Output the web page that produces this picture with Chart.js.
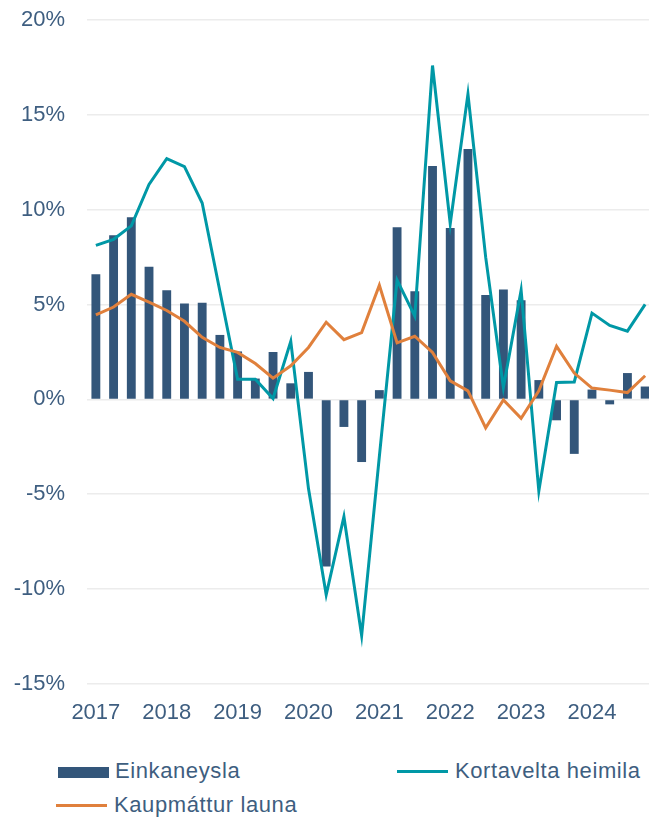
<!DOCTYPE html>
<html>
<head>
<meta charset="utf-8">
<script src="https://cdn.jsdelivr.net/npm/chart.js@4.4.1/dist/chart.umd.min.js"></script>
<style>
  html, body { margin: 0; padding: 0; background: #ffffff; overflow: hidden; width: 649px; height: 818px; }
  #wrap { position: absolute; left: 0; top: 0; width: 656px; height: 735px; }
  .leg { position: absolute; font-family: "Liberation Sans", Arial, sans-serif; font-size: 22px; letter-spacing: 0.6px; color: #3E5E80; line-height: normal; white-space: nowrap; }
  .sw { position: absolute; }
</style>
</head>
<body>
<div id="wrap"><canvas id="c" width="656" height="735"></canvas></div>
<div id="legend"></div>
<script>
const years = ['2017', '2018', '2019', '2020', '2021', '2022', '2023', '2024'];
const quarterNames = ['Q1', 'Q2', 'Q3', 'Q4'];
const categories = years.flatMap(y => quarterNames.map(q => y + ' ' + q));

const seriesNames = ['Einkaneysla', 'Kortavelta heimila', 'Kaupmáttur launa'];

const einkaneysla = [6.6, 8.65, 9.6, 7.0, 5.75, 5.05, 5.1, 3.4,
                     2.53, 1.1, 2.5, 0.85, 1.45, -8.8, -1.45, -3.3,
                     0.49, 9.08, 5.7, 12.3, 9.03, 13.2, 5.5, 5.8,
                     5.23, 1.02, -1.1, -2.87, 0.52, -0.26, 1.39, 0.68];

const kortavelta = [8.12, 8.44, 9.15, 11.33, 12.69, 12.27, 10.35, 5.7,
                    1.06, 1.06, 0.05, 3.06, -4.7, -10.3, -6.18, -12.45,
                    -3.0, 6.29, 4.39, 17.6, 9.26, 16.1, 7.5, 0.63,
                    5.76, -4.82, 0.89, 0.92, 4.55, 3.9, 3.6, 5.01];

const kaupmattur = [4.46, 4.87, 5.54, 5.13, 4.69, 4.12, 3.27, 2.74,
                    2.48, 1.89, 1.12, 1.77, 2.74, 4.07, 3.15, 3.52,
                    6.02, 2.98, 3.33, 2.48, 0.98, 0.45, -1.5, -0.03,
                    -1.0, 0.45, 2.8, 1.39, 0.6, 0.49, 0.36, 1.25];

const yTicks = [-15, -10, -5, 0, 5, 10, 15, 20];

const colBar = '#33567A';
const colTeal = '#0098A6';
const colOrange = '#E0803C';
const colText = '#3E5E80';

new Chart(document.getElementById('c'), {
  data: {
    labels: categories,
    datasets: [
      { type: 'line', label: seriesNames[2], data: kaupmattur, borderColor: colOrange, borderWidth: 3,
        pointRadius: 0, tension: 0, fill: false, order: 1 },
      { type: 'line', label: seriesNames[1], data: kortavelta, borderColor: colTeal, borderWidth: 3,
        pointRadius: 0, tension: 0, fill: false, order: 2 },
      { type: 'bar', label: seriesNames[0], data: einkaneysla, backgroundColor: colBar,
        barPercentage: 0.5, categoryPercentage: 1.0, order: 3 }
    ]
  },
  options: {
    responsive: false,
    animation: false,
    devicePixelRatio: 1,
    layout: { padding: { top: 20, right: 2, bottom: 0, left: 0 } },
    plugins: { legend: { display: false }, tooltip: { enabled: false } },
    scales: {
      x: {
        type: 'category',
        offset: true,
        grid: { display: false },
        border: { display: false },
        ticks: {
          autoSkip: false,
          maxRotation: 0,
          padding: 8,
          color: colText,
          font: { family: 'Liberation Sans, Arial, sans-serif', size: 22 },
          callback: function (v, i) { return i % 4 === 0 ? years[i / 4] : ''; }
        },
        afterFit: function (s) { s.height = 51; s.paddingLeft = 0; s.paddingRight = 0; }
      },
      y: {
        min: yTicks[0],
        max: yTicks[yTicks.length - 1],
        afterBuildTicks: function (s) { s.ticks = yTicks.map(v => ({ value: v })); },
        grid: { color: '#ECECEC', lineWidth: 1.6, drawTicks: false },
        border: { display: false },
        ticks: {
          padding: 22,
          color: colText,
          font: { family: 'Liberation Sans, Arial, sans-serif', size: 22 },
          callback: function (v) { return v + '%'; }
        },
        afterFit: function (s) { s.width = 87; s.paddingTop = 0; s.paddingBottom = 0; }
      }
    }
  }
});

// HTML legend built from series names
const legend = document.getElementById('legend');
const items = [
  { name: seriesNames[0], kind: 'bar', color: colBar, x: 58, y: 767, textX: 115, textTop: 758 },
  { name: seriesNames[1], kind: 'line', color: colTeal, x: 397, y: 771, textX: 455, textTop: 758 },
  { name: seriesNames[2], kind: 'line', color: colOrange, x: 56, y: 805, textX: 114, textTop: 792 }
];
items.forEach(it => {
  const sw = document.createElement('div');
  sw.className = 'sw';
  sw.style.left = it.x + 'px';
  sw.style.width = '51px';
  sw.style.background = it.color;
  if (it.kind === 'bar') { sw.style.top = it.y + 'px'; sw.style.height = '11px'; }
  else { sw.style.top = (it.y - 1.5) + 'px'; sw.style.height = '3px'; }
  legend.appendChild(sw);
  const t = document.createElement('div');
  t.className = 'leg';
  t.style.left = it.textX + 'px';
  t.style.top = it.textTop + 'px';
  t.textContent = it.name;
  legend.appendChild(t);
});
</script>
</body>
</html>
